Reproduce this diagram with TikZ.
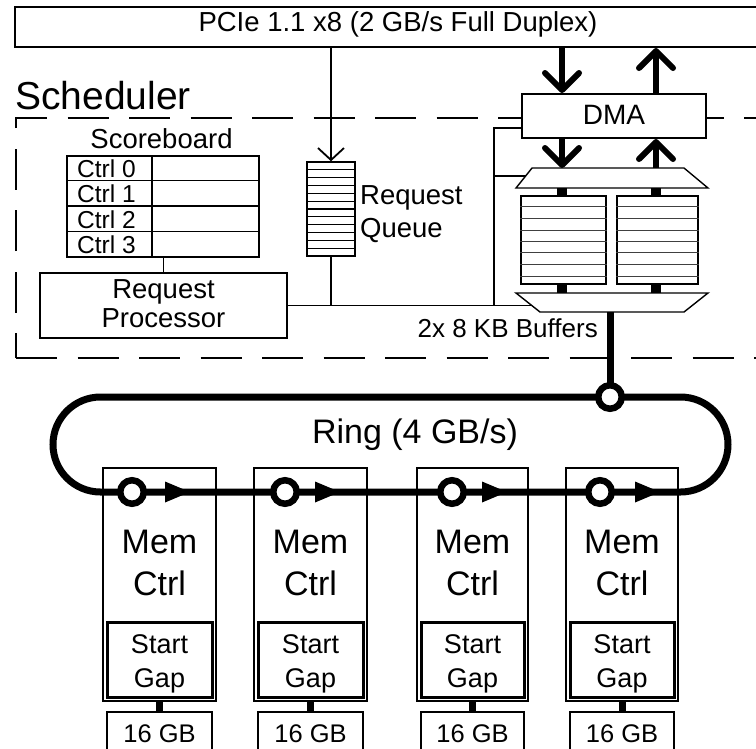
\documentclass[tikz,border=0pt]{standalone}
\usepackage{fontspec}
\setmainfont{Liberation Sans}
\usetikzlibrary{arrows.meta}

\newcommand\fsz[1]{\fontsize{#1}{#1}\selectfont}

\begin{document}
\begin{tikzpicture}[x=1pt,y=-1pt,
  wire/.style={line width=1.8pt},
  fine/.style={line width=1.4pt},
  blk/.style={draw, line width=2pt, fill=white, inner sep=0pt},
  schdash/.style={line width=2pt, dash pattern=on 41pt off 20.5pt},
  bigarrow/.style={line width=6pt, -{Straight Barb[length=17pt,width=34pt,round]}},
  ringline/.style={line width=7pt},
  port/.style={circle, draw, fill=white, line width=6.5pt, minimum size=23.5pt, inner sep=0pt},
  busbar/.style={line width=10pt},
  lbl/.style={anchor=base, inner sep=0pt},
]
\useasboundingbox (0,0) rectangle (756,748);
\clip (0,0) rectangle (756,748);
\fill[white] (0,0) rectangle (756,748);

% ---- scheduler region ----
\draw[schdash, dash phase=16pt] (16,358) -- (16,118) -- (790,118);
\draw[schdash] (16,358) -- (790,358);
\node[lbl, anchor=base west, font=\fsz{39}] (schedname) at (15,109) {Scheduler};

% ---- PCIe link ----
\node[blk, minimum width=766pt, minimum height=40pt] (pcie) at (398,27) {};
\node[lbl, font=\fsz{27.5}] (pcietext) at (398,31) {PCIe 1.1 x8 (2 GB/s Full Duplex)};

% ---- scoreboard ----
\node[lbl, font=\fsz{27.5}] (sbtitle) at (161.5,148) {Scoreboard};
\node[blk, line width=1.5pt, minimum width=192pt, minimum height=101pt] (sb) at (163,206.5) {};
\draw[fine] (152,156) -- (152,257);
\foreach \yy in {180.5,206,231.5} \draw[fine] (67,\yy) -- (259,\yy);
\foreach \k/\yy in {0/177,1/202,2/228,3/253}
  \node[lbl, anchor=base west, font=\fsz{24.5}] (ctrl\k) at (77,\yy) {Ctrl \k};

% ---- request processor ----
\node[blk, line width=1.5pt, minimum width=247pt, minimum height=65pt] (rp) at (163.5,305.5) {};
\node[lbl, font=\fsz{27.5}] (rp1) at (163.5,298) {Request};
\node[lbl, font=\fsz{27.5}] (rp2) at (163.5,327) {Processor};
\draw[wire] (sb.south -| rp.north) -- (rp.north);

% ---- request queue ----
\node[blk, line width=1.5pt, minimum width=48pt, minimum height=94pt] (rq) at (331,209) {};
\foreach \k in {1,...,11} \draw[line width=1.2pt] (307,162+\k*7.8333) -- (355,162+\k*7.8333);
\node[lbl, anchor=base west, font=\fsz{27.5}] (rq1) at (360,204) {Request};
\node[lbl, anchor=base west, font=\fsz{27.5}] (rq2) at (360,237) {Queue};
\draw[wire, -{Straight Barb[length=12pt,width=26pt]}] (rq.north |- pcie.south) -- (rq.north);

% ---- DMA ----
\node[blk, minimum width=184pt, minimum height=44pt] (dma) at (614,116) {};
\node[lbl, font=\fsz{28}] (dmatext) at (614,124.5) {DMA};
\coordinate (chA) at (562,0);
\coordinate (chB) at (656,0);
\draw[bigarrow] (chA |- pcie.south) -- (chA |- dma.north);
\draw[bigarrow] (chB |- dma.north) -- (chB |- pcie.south);

% ---- buffers with input / output muxes ----
\coordinate (muxAtop) at (612,168);
\coordinate (muxAbot) at (612,188);
\coordinate (muxBtop) at (612,293);
\coordinate (muxBbot) at (610,312);
\draw[fine, fill=white] (532,168) -- (684,168) -- (708,188) -- (516,188) -- cycle;
\draw[fine, fill=white] (516,293) -- (708,293) -- (684,312) -- (540,312) -- cycle;
\node[blk, line width=1.5pt, minimum width=85pt, minimum height=88pt] (bufL) at (563.5,240) {};
\node[blk, line width=1.5pt, minimum width=81pt, minimum height=88pt] (bufR) at (657.5,240) {};
\foreach \yy in {206.7,218.3,230,241.7,252.7,264.3,276} {
  \draw[line width=1pt, black!75] (bufL.west |- 0,\yy) -- (bufL.east |- 0,\yy);
  \draw[line width=1pt, black!75] (bufR.west |- 0,\yy) -- (bufR.east |- 0,\yy);
}
\draw[bigarrow] (chA |- dma.south) -- (chA |- muxAtop);
\draw[bigarrow] (chB |- muxAtop) -- (chB |- dma.south);
\draw[busbar] (chA |- muxAbot) -- (chA |- bufL.north);
\draw[busbar] (chB |- muxAbot) -- (chB |- bufR.north);
\draw[busbar] (chA |- bufL.south) -- (chA |- muxBtop);
\draw[busbar] (chB |- bufR.south) -- (chB |- muxBtop);
\node[lbl, anchor=base east, font=\fsz{26}] (buftext) at (598,337) {2x 8 KB Buffers};

% ---- control bus ----
\coordinate (dmactl) at (522,128);
\coordinate (muxActl) at (525.6,176);
\coordinate (muxBctl) at (531.8,305.5);
\coordinate (busjoin) at (494,305.5);
\draw[wire] (rq.south) -- (rq.south |- rp.east);
\draw[wire] (rp.east) -- (muxBctl);
\draw[wire] (dmactl) -| (busjoin);
\draw[wire] (busjoin |- muxActl) -- (muxActl);

% ---- memory controllers ----
\foreach \i/\l/\r in {1/103/216, 2/254/367, 3/417/528, 4/566/678} {
  \pgfmathsetmacro\mx{(\l+\r)/2}
  \pgfmathsetmacro\mw{\r-\l}
  \pgfmathsetmacro\iw{\r-\l-8}
  \node[blk, minimum width=\mw pt, minimum height=233pt] (mem\i) at (\mx,584.5) {};
  \node[blk, line width=3pt, minimum width=\iw pt, minimum height=75pt] (sg\i) at (\mx,659.5) {};
  \node[blk, line width=2.5pt, minimum width=\iw pt, minimum height=58pt] (gb\i) at (\mx,741) {};
  \draw[line width=7pt] (mem\i.south) -- (gb\i.north);
  \node[lbl, font=\fsz{34}] (memA\i) at (\mx,553) {Mem};
  \node[lbl, font=\fsz{34}] (memB\i) at (\mx,595) {Ctrl};
  \node[lbl, font=\fsz{27}] (sgA\i) at (\mx,653) {Start};
  \node[lbl, font=\fsz{27}] (sgB\i) at (\mx,687) {Gap};
  \node[lbl, font=\fsz{25.5}] (gbt\i) at (\mx,742) {16 GB};
}

% ---- ring ----
\draw[ringline, rounded corners=47.5pt] (300,492) -- (728,492) -- (728,397) -- (53,397) -- (53,492) -- cycle;
\draw[ringline] (muxBbot) -- (610,397);
\node[port] (ringport) at (610,397) {};
\foreach \i/\c/\t in {1/132/190, 2/285/340, 3/452/507, 4/600/660} {
  \node[port] (rn\i) at (\c,492) {};
  \fill (\t,492) -- ++(-25,-10.5) -- ++(0,21) -- cycle;
}
\node[lbl, font=\fsz{34}] (ringtext) at (415,443) {Ring (4 GB/s)};
\end{tikzpicture}
\end{document}
